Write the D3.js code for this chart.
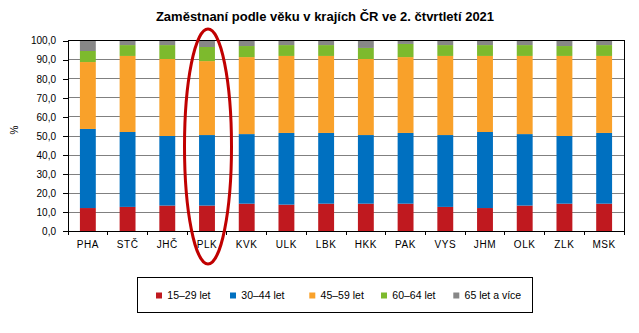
<!DOCTYPE html>
<html>
<head>
<meta charset="utf-8">
<script src="https://cdn.jsdelivr.net/npm/d3@7"></script>
<style>
  html, body { margin: 0; padding: 0; background: #fff; }
  svg { display: block; font-family: "Liberation Sans", Arial, sans-serif; }
</style>
</head>
<body>
<svg id="chart" width="639" height="333"></svg>
<script>
// Kraje (zkratky)
const regions = ["PHA", "STČ", "JHČ", "PLK", "KVK", "ULK", "LBK", "HKK", "PAK", "VYS", "JHM", "OLK", "ZLK", "MSK"];

// Podíl zaměstnaných podle věkových skupin (%)
const age15_29 = [12.2, 12.8, 13.5, 13.5, 14.5, 14.0, 14.5, 14.5, 14.5, 12.8, 12.2, 13.5, 14.5, 14.5];
const age30_44 = [41.5, 39.3, 36.5, 37.0, 36.5, 37.6, 37.1, 36.0, 37.1, 37.7, 39.9, 37.5, 35.5, 37.1];
const age45_59 = [35.1, 39.9, 40.4, 38.8, 40.4, 40.4, 40.4, 39.9, 39.8, 41.5, 39.9, 41.0, 42.0, 40.4];
const age60_64 = [5.8, 5.7, 7.3, 7.4, 5.8, 5.7, 5.7, 5.8, 6.9, 5.7, 5.7, 5.7, 5.2, 5.7];
const age65plus = [5.4, 2.3, 2.3, 3.3, 2.8, 2.3, 2.3, 3.8, 1.7, 2.3, 2.3, 2.3, 2.8, 2.3];

const seriesNames = ["15–29 let", "30–44 let", "45–59 let", "60–64 let", "65 let a více"];
const seriesValues = [age15_29, age30_44, age45_59, age60_64, age65plus];
const seriesColors = ["#c0191f", "#0070c0", "#f9a12a", "#7dba2d", "#878787"];

const yTicks = [0, 10, 20, 30, 40, 50, 60, 70, 80, 90, 100];
const highlighted = "PLK";

const svg = d3.select("#chart");
const plot = { left: 68, right: 624, top: 40.7, bottom: 231.3 };

const x = d3.scaleBand()
  .domain(regions)
  .range([plot.left, plot.right])
  .paddingInner(0.6)
  .paddingOuter(0.3);

const y = d3.scaleLinear().domain([0, 100]).range([plot.bottom, plot.top]);

// stacked data
const rows = regions.map((r, i) => {
  const o = { region: r };
  seriesNames.forEach((s, k) => { o[s] = seriesValues[k][i]; });
  return o;
});
const stacked = d3.stack().keys(seriesNames)(rows);

// title
svg.append("text")
  .attr("x", 325).attr("y", 20.5)
  .attr("text-anchor", "middle")
  .attr("font-size", "13px")
  .attr("font-weight", "bold")
  .attr("fill", "#000")
  .text("Zaměstnaní podle věku v krajích ČR ve 2. čtvrtletí 2021");

// gridlines
svg.append("g")
  .selectAll("line")
  .data(yTicks.filter(t => t > 0))
  .join("line")
  .attr("x1", plot.left).attr("x2", plot.right)
  .attr("y1", d => y(d)).attr("y2", d => y(d))
  .attr("stroke", "#808080").attr("stroke-width", 1)
  .attr("shape-rendering", "crispEdges");

// bars
svg.append("g")
  .selectAll("g")
  .data(stacked)
  .join("g")
  .attr("fill", (d, i) => seriesColors[i])
  .selectAll("rect")
  .data(d => d)
  .join("rect")
  .attr("x", d => x(d.data.region))
  .attr("width", x.bandwidth())
  .attr("y", d => y(d[1]))
  .attr("height", d => y(d[0]) - y(d[1]));

// plot frame (top and right)
svg.append("path")
  .attr("d", `M${plot.left},${y(100)}H${plot.right}V${plot.bottom}`)
  .attr("fill", "none").attr("stroke", "#000").attr("stroke-width", 1)
  .attr("shape-rendering", "crispEdges");

// y axis
const yAxis = d3.axisLeft(y)
  .tickValues(yTicks)
  .tickSize(5)
  .tickPadding(7)
  .tickFormat(d => d3.format(".1f")(d).replace(".", ","));
const gy = svg.append("g")
  .attr("transform", `translate(${plot.left},0)`)
  .call(yAxis);
gy.select(".domain").attr("stroke", "#000").attr("shape-rendering", "crispEdges");
gy.selectAll(".tick line").attr("stroke", "#000").attr("shape-rendering", "crispEdges");
gy.selectAll(".tick text")
  .attr("font-family", "'Liberation Sans', Arial, sans-serif")
  .attr("font-size", "10px").attr("fill", "#000");

// x axis: baseline, ticks at category boundaries, labels centered
const step = x.step();
const x0 = x(regions[0]) - step * x.paddingOuter();
svg.append("line")
  .attr("x1", plot.left).attr("x2", plot.right)
  .attr("y1", plot.bottom).attr("y2", plot.bottom)
  .attr("stroke", "#000").attr("shape-rendering", "crispEdges");
svg.append("g")
  .selectAll("line")
  .data(d3.range(regions.length + 1))
  .join("line")
  .attr("x1", i => x0 + i * step).attr("x2", i => x0 + i * step)
  .attr("y1", plot.bottom).attr("y2", plot.bottom + 4)
  .attr("stroke", "#000").attr("shape-rendering", "crispEdges");
svg.append("g")
  .selectAll("text")
  .data(regions)
  .join("text")
  .attr("x", d => x(d) + x.bandwidth() / 2)
  .attr("y", 248.3)
  .attr("text-anchor", "middle")
  .attr("font-size", "10px")
  .attr("letter-spacing", "0.6px")
  .attr("fill", "#000")
  .text(d => d);

// y axis title
svg.append("text")
  .attr("transform", "translate(18,130) rotate(-90)")
  .attr("text-anchor", "middle")
  .attr("font-size", "10px")
  .attr("fill", "#000")
  .text("%");

// highlight of one region
const hx = x(highlighted) + x.bandwidth() / 2;
svg.append("ellipse")
  .attr("cx", hx + 1)
  .attr("cy", (y(100) + plot.bottom) / 2 + 10.5)
  .attr("rx", 23.5)
  .attr("ry", 117.5)
  .attr("fill", "none")
  .attr("stroke", "#c00000")
  .attr("stroke-width", 3);

// legend
const legend = svg.append("g");
legend.append("rect")
  .attr("x", 137.5).attr("y", 277.5)
  .attr("width", 395).attr("height", 35)
  .attr("fill", "#fff").attr("stroke", "#000").attr("stroke-width", 1);
const legendX = [156, 230, 309.3, 381, 453.3];
const items = legend.selectAll("g.item")
  .data(seriesNames)
  .join("g")
  .attr("class", "item")
  .attr("transform", (d, i) => `translate(${legendX[i]},295.5)`);
items.append("rect")
  .attr("x", 0).attr("y", -3).attr("width", 6).attr("height", 6)
  .attr("fill", (d, i) => seriesColors[i]);
items.append("text")
  .attr("x", 11.3).attr("y", 3.8)
  .attr("font-size", "10.5px")
  .attr("fill", "#000")
  .text(d => d);
</script>
</body>
</html>
